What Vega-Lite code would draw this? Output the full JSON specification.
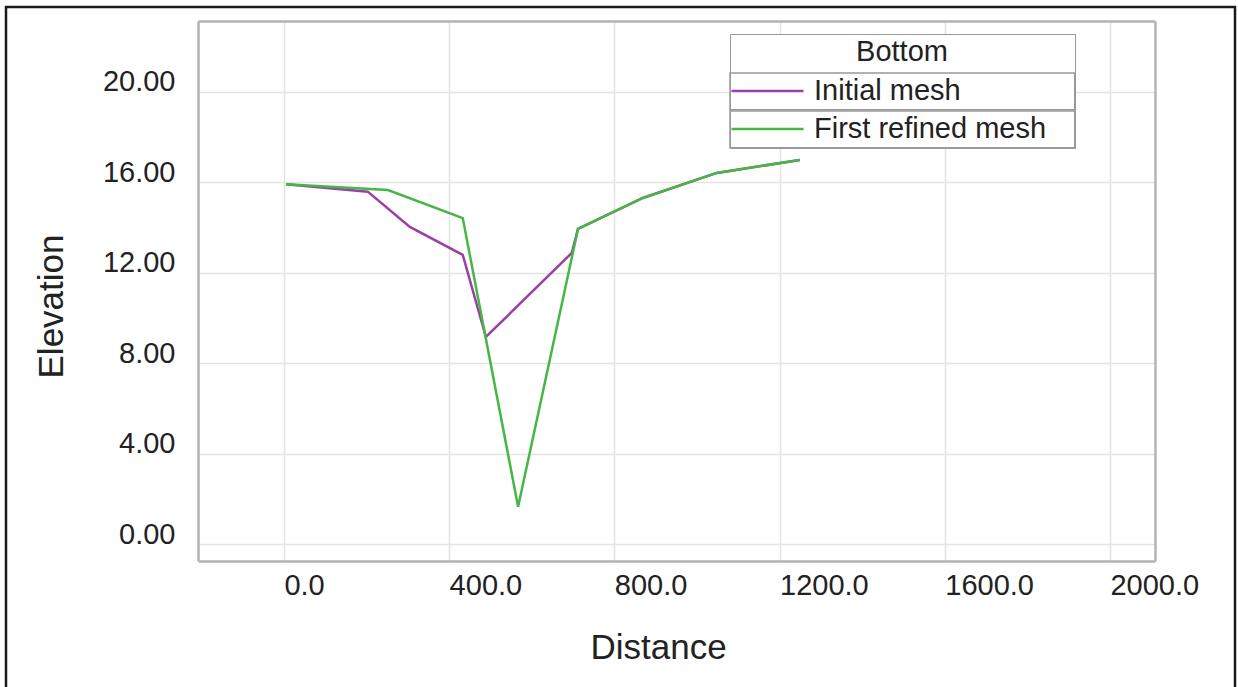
{
  "$schema": "https://vega.github.io/schema/vega-lite/v6.json",
  "width": 1229,
  "height": 682,
  "autosize": "none",
  "padding": {"left": 6, "top": 7, "right": 3, "bottom": 0},
  "background": "white",
  "config": {
    "view": {"stroke": "#1a1a1a", "strokeWidth": 2.5},
    "font": "Liberation Sans"
  },
  "data": {
    "values": [
      {"mesh": "Initial mesh", "distance": 5, "elevation": 15.92},
      {"mesh": "Initial mesh", "distance": 203, "elevation": 15.59},
      {"mesh": "Initial mesh", "distance": 305, "elevation": 14.03},
      {"mesh": "Initial mesh", "distance": 433, "elevation": 12.79},
      {"mesh": "Initial mesh", "distance": 489, "elevation": 9.16},
      {"mesh": "Initial mesh", "distance": 697, "elevation": 12.88},
      {"mesh": "Initial mesh", "distance": 712, "elevation": 13.94},
      {"mesh": "Initial mesh", "distance": 869, "elevation": 15.31},
      {"mesh": "Initial mesh", "distance": 1048, "elevation": 16.42},
      {"mesh": "Initial mesh", "distance": 1249, "elevation": 16.99},
      {"mesh": "First refined mesh", "distance": 5, "elevation": 15.92},
      {"mesh": "First refined mesh", "distance": 252, "elevation": 15.66},
      {"mesh": "First refined mesh", "distance": 433, "elevation": 14.42},
      {"mesh": "First refined mesh", "distance": 567, "elevation": 1.65},
      {"mesh": "First refined mesh", "distance": 712, "elevation": 13.94},
      {"mesh": "First refined mesh", "distance": 869, "elevation": 15.31},
      {"mesh": "First refined mesh", "distance": 1048, "elevation": 16.42},
      {"mesh": "First refined mesh", "distance": 1249, "elevation": 16.99}
    ]
  },
  "resolve": {"axis": {"x": "independent", "y": "independent"}},
  "layer": [
    {
      "transform": [{"filter": "datum.mesh === 'Initial mesh'"}],
      "mark": {"type": "line", "strokeWidth": 2.5},
      "encoding": {
        "x": {
          "field": "distance", "type": "quantitative",
          "scale": {"domain": [-208, 2109], "range": [192, 1149], "nice": false, "zero": false},
          "axis": {
            "orient": "bottom", "offset": -128,
            "values": [0, 400, 800, 1200, 1600, 2000], "format": ".1f",
            "grid": false,
            "ticks": false, "tickSize": 0,
            "domain": true, "domainColor": "#b3b3b3", "domainWidth": 2.5,
            "labelFontSize": 29, "labelColor": "#222", "labelAlign": "left", "labelPadding": 10,
            "labelFont": "Liberation Sans",
            "title": "Distance", "titleFontSize": 35, "titleFontWeight": "normal", "titleColor": "#222",
            "titleFont": "Liberation Sans", "titleX": 652, "titleY": 69
          }
        },
        "y": {
          "field": "elevation", "type": "quantitative",
          "scale": {"domain": [-0.75, 23.14], "range": [554, 14], "nice": false, "zero": false},
          "axis": {
            "orient": "left", "offset": -192,
            "values": [0, 4, 8, 12, 16, 20], "format": ".2f",
            "grid": true, "gridColor": "#e4e4e4", "gridWidth": 1.5,
            "ticks": false, "tickSize": 0,
            "domain": true, "domainColor": "#b3b3b3", "domainWidth": 2.5,
            "labelFontSize": 29, "labelColor": "#222", "labelBaseline": "alphabetic", "labelPadding": 23,
            "labelFont": "Liberation Sans", "labelOffset": -1,
            "title": "Elevation", "titleFontSize": 35, "titleFontWeight": "normal", "titleColor": "#222",
            "titleFont": "Liberation Sans", "titleX": -129, "titleY": 299
          }
        },
        "color": {
          "field": "mesh", "type": "nominal",
          "scale": {"domain": ["Initial mesh", "First refined mesh"], "range": ["#9b3fa3", "#46b646"]},
          "legend": {
            "orient": "none", "legendX": 724, "legendY": 27,
            "title": "Bottom", "titleAnchor": "middle", "titleFontSize": 29, "titleFontWeight": "normal",
            "titleColor": "#222", "titleFont": "Liberation Sans",
            "titleBaseline": "line-top", "titleLineHeight": 37, "titlePadding": 10,
            "labelFontSize": 29, "labelColor": "#222", "labelFont": "Liberation Sans", "labelOffset": 9, "labelLimit": 400,
            "symbolType": "stroke", "symbolSize": 5184, "symbolStrokeWidth": 2.5,
            "clipHeight": 36, "rowPadding": 0, "padding": 0,
            "strokeColor": "#999999", "fillColor": "white",
            "encode": {
              "entries": {
                "update": {
                  "width": {"value": 344}, "height": {"value": 36},
                  "stroke": {"value": "#999999"}, "strokeWidth": {"value": 1.5}
                }
              }
            }
          }
        }
      }
    },
    {
      "transform": [{"filter": "datum.mesh === 'First refined mesh'"}],
      "mark": {"type": "line", "strokeWidth": 2.5},
      "encoding": {
        "x": {
          "field": "distance", "type": "quantitative",
          "scale": {"domain": [-208, 2109], "range": [192, 1149], "nice": false, "zero": false},
          "axis": {
            "orient": "top", "offset": -14, "labels": false, "ticks": false,
            "values": [0, 400, 800, 1200, 1600, 2000],
            "grid": true, "gridColor": "#e4e4e4", "gridWidth": 1.5,
            "domain": true, "domainColor": "#b3b3b3", "domainWidth": 2.5, "title": null
          }
        },
        "y": {
          "field": "elevation", "type": "quantitative",
          "scale": {"domain": [-0.75, 23.14], "range": [554, 14], "nice": false, "zero": false},
          "axis": {
            "orient": "right", "offset": -80, "grid": false, "labels": false, "ticks": false,
            "domain": true, "domainColor": "#b3b3b3", "domainWidth": 2.5, "title": null
          }
        },
        "color": {"field": "mesh", "type": "nominal"}
      }
    }
  ]
}
